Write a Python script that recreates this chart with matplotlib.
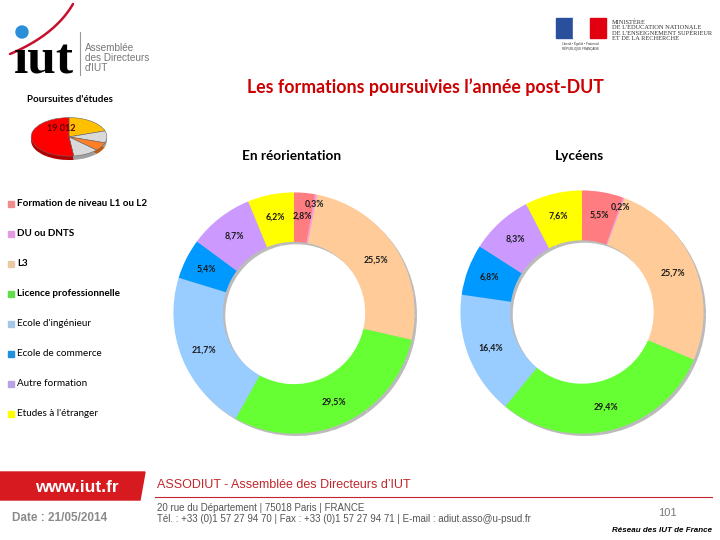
import numpy as np
import matplotlib
matplotlib.use("Agg")
import matplotlib.pyplot as plt
from matplotlib.patches import Rectangle, Circle, Polygon

# --- data ---
categories = ["Formation de niveau L1 ou L2", "DU ou DNTS", "L3",
              "Licence professionnelle", "Ecole d'ingénieur",
              "Ecole de commerce", "Autre formation", "Etudes à l'étranger"]
reorientation = [2.8, 0.3, 25.5, 29.5, 21.7, 5.4, 8.7, 6.2]
lyceens = [5.5, 0.2, 25.7, 29.4, 16.4, 6.8, 8.3, 7.6]
pie_colors = ["#ff7c80", "#ff99dd", "#ffcc99", "#66ff33",
              "#99ccff", "#0099ff", "#cc99ff", "#ffff00"]
legend_colors = ["#f28b8b", "#e39be3", "#e8c9a4", "#5fe04a",
                 "#a6c8e8", "#1f8fe0", "#b9a3e3", "#ffff00"]

mini_values = [20, 10, 7, 11, 52]   # petit camembert "Poursuites d'études"
mini_colors = ["#ffc000", "#d9d9d9", "#ff7f27", "#d9d9d9", "#ff0000"]
mini_dark = ["#c09000", "#a0a0a0", "#c05a10", "#a0a0a0", "#b00000"]

W, H = 720, 540
fig = plt.figure(figsize=(7.2, 5.4), dpi=100)
fig.patch.set_facecolor("white")

bg = fig.add_axes([0, 0, 1, 1])
bg.set_xlim(0, W)
bg.set_ylim(H, 0)
bg.axis("off")

CAL = "Lato"

# --- logo IUT ---
t = np.linspace(0, 1, 60)
p0, p1, p2 = np.array([10, 54]), np.array([55, 35]), np.array([73, 4])
curve = np.outer((1 - t) ** 2, p0) + np.outer(2 * (1 - t) * t, p1) + np.outer(t ** 2, p2)
bg.plot(curve[:, 0], curve[:, 1], color="#c8102e", lw=1.8, solid_capstyle="round")
bg.text(14, 73, "\u0131ut", family="Liberation Serif", fontsize=37, fontweight="bold",
        color="black", va="baseline", ha="left")
bg.add_patch(Circle((22, 32), 6, color="#2a8fd8", zorder=5))
bg.plot([80, 80], [32, 75], color="#999999", lw=0.8)
bg.text(85, 58, "Assemblée\ndes Directeurs\nd'IUT", family="Liberation Sans",
        fontsize=7.2, color="#777777", va="center", ha="left", linespacing=0.95)

# --- logo ministère ---
bg.add_patch(Rectangle((556, 18), 17, 20, color="#2a4f9c"))
bg.add_patch(Rectangle((573, 18), 17, 20, color="white"))
bg.add_patch(Rectangle((590, 18), 16, 20, color="#e1000f"))
bg.text(581, 41, "Liberté • Égalité • Fraternité\nRÉPUBLIQUE FRANÇAISE", fontsize=2.2,
        color="#333333", ha="center", va="top", family="Liberation Sans")
bg.text(612, 30, "MINISTÈRE\nDE L'ÉDUCATION NATIONALE\nDE L'ENSEIGNEMENT SUPÉRIEUR\nET DE LA RECHERCHE",
        family="Liberation Serif", fontsize=4.6, color="#333333", ha="left", va="center",
        linespacing=1.0)

# --- titres ---
bg.text(425, 87, "Les formations poursuivies l\u2019année post-DUT", family=CAL,
        fontsize=12.8, fontweight="bold", color="#cc0000", ha="center", va="center")
bg.text(292, 156, "En réorientation", family=CAL, fontsize=9.8, fontweight="bold",
        color="black", ha="center", va="center")
bg.text(579, 156, "Lycéens", family=CAL, fontsize=9.8, fontweight="bold",
        color="black", ha="center", va="center")

# --- petit camembert ---
bg.text(27, 100, "Poursuites d'études", family=CAL, fontsize=7, fontweight="bold",
        color="black", ha="left", va="center")
mx = fig.add_axes([30 / W, 1 - 161 / H, 78 / W, 44 / H])
mx.pie(mini_values, colors=mini_dark, startangle=90, counterclock=False,
       center=(0, -0.2), radius=1)
mx.pie(mini_values, colors=mini_colors, startangle=90, counterclock=False,
       wedgeprops=dict(edgecolor="#666666", linewidth=0.4))
mx.set_aspect("auto")
mx.set_xlim(-1.03, 1.03)
mx.set_ylim(-1.25, 1.03)
mx.text(-0.58, 0.42, "19 012", family=CAL, fontsize=6.5, fontweight="bold",
        color="#5a0000", ha="left", va="center")

# --- légende ---
for i, (cat, col) in enumerate(zip(categories, legend_colors)):
    y = 204 + 30 * i
    bg.add_patch(Rectangle((8, y - 3), 6, 6, color=col))
    bg.text(17, y, cat, family=CAL, fontsize=7.1,
            fontweight="bold" if i < 4 else "normal", color="black",
            ha="left", va="center")


# --- anneaux ---
def donut(cx, cy, r, values):
    ax = fig.add_axes([(cx - r) / W, 1 - (cy + r) / H, 2 * r / W, 2 * r / H])
    ax.pie(values, colors=["#bbbbbb"] * len(values), radius=1, center=(0.02, -0.02),
           wedgeprops=dict(width=0.41, linewidth=0))
    wedges, _ = ax.pie(values, colors=pie_colors, startangle=90, counterclock=False,
                       radius=1, wedgeprops=dict(width=0.41, linewidth=0))
    for w, v in zip(wedges, values):
        ang = np.deg2rad((w.theta1 + w.theta2) / 2)
        d = 0.92 if v < 1 else 0.81
        ax.text(d * np.cos(ang), d * np.sin(ang), f"{v:.1f}".replace(".", ",") + "%",
                family=CAL, fontsize=6.3, fontweight="bold", color="#1a1a1a",
                ha="center", va="center")
    ax.set_aspect("auto")
    ax.set_xlim(-1.02, 1.02)
    ax.set_ylim(-1.02, 1.02)


donut(294, 313, 123, reorientation)
donut(582, 312, 124, lyceens)

# --- pied de page ---
bg.add_patch(Polygon([[0, 472], [145, 472], [140, 500], [0, 500]], closed=True,
                     color="#d71920"))
bg.text(77, 488, "www.iut.fr", family="Liberation Sans", fontsize=12.5,
        fontweight="bold", color="white", ha="center", va="center")
bg.text(12, 518, "Date : 21/05/2014", family="Liberation Sans", fontsize=8.5,
        fontweight="bold", color="#8a8a8a", ha="left", va="center")
bg.text(157, 485, "ASSODIUT - Assemblée des Directeurs d\u2019IUT", family="Liberation Sans",
        fontsize=9.0, color="#c0272d", ha="left", va="center")
bg.plot([155, 712], [497, 497], color="#c0272d", lw=0.8)
bg.text(157, 508, "20 rue du Département | 75018 Paris | FRANCE", family="Liberation Sans",
        fontsize=7.0, color="#555555", ha="left", va="center")
bg.text(157, 519, "Tél. : +33 (0)1 57 27 94 70 | Fax : +33 (0)1 57 27 94 71 | E-mail : adiut.asso@u-psud.fr",
        family="Liberation Sans", fontsize=7.0, color="#555555", ha="left", va="center")
bg.text(667, 513, "101", family="Liberation Sans", fontsize=8, color="#777777",
        ha="center", va="center")
bg.text(712, 531, "Réseau des IUT de France", family="Liberation Sans", fontsize=5.8,
        fontweight="bold", fontstyle="italic", color="black", ha="right", va="center")

fig.savefig("out.png", dpi=100)
